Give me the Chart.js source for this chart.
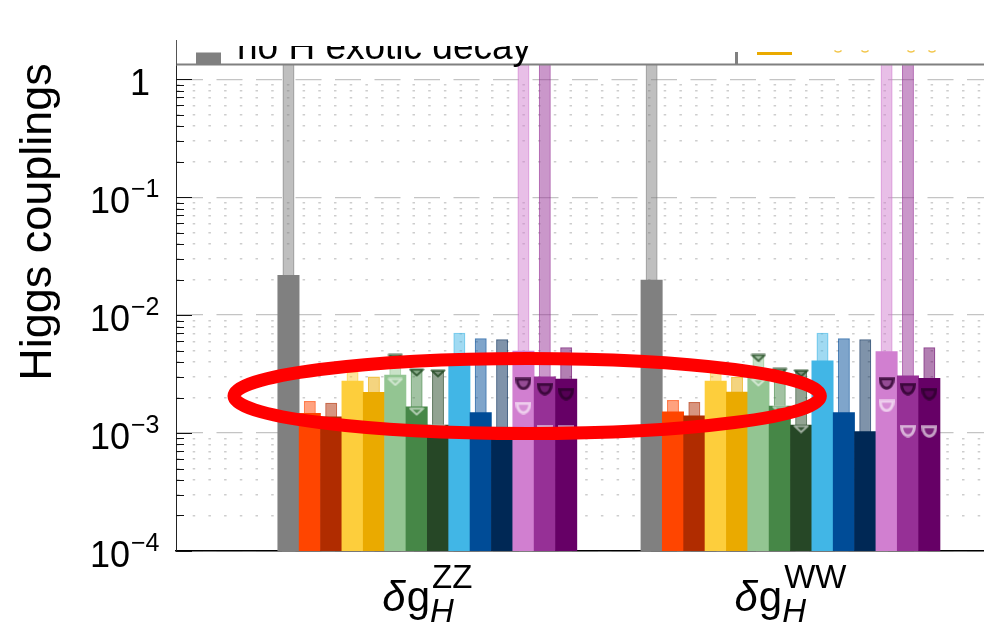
<!DOCTYPE html>
<html>
<head>
<meta charset="utf-8">
<script src="https://cdn.jsdelivr.net/npm/chart.js@4.4.0/dist/chart.umd.min.js"></script>
<style>
  html, body { margin: 0; padding: 0; background: #fff; overflow: hidden; }
  #wrap { width: 984px; height: 625px; }
</style>
</head>
<body>
<div id="wrap"><canvas id="myChart" width="984" height="625"></canvas></div>
<script>
// Coupling groups (superscript of δg_H) and slot layout
const groupNames = ['ZZ', 'WW'];
const slotsPerGroup = 17;   // 14 bars + 3 empty slots between groups

// Bar colours, one per scenario (grey = no H exotic decay)
const barColors = ['#808080', '#FF4500', '#B02C00', '#FDCE3C', '#EAAA00', '#93C592', '#468747',
                   '#264726', '#41B6E6', '#004C97', '#002855', '#D17FD0', '#963096', '#660066'];

// Precision reach per scenario (solid bars) and the looser reach (thin pale bars)
const mainZZ  = [0.0217, 1.47e-3, 1.37e-3, 2.76e-3, 2.21e-3, 3.10e-3, 1.67e-3, 1.17e-3, 4.1e-3, 1.49e-3, 1.03e-3, 4.96e-3, 3.00e-3, 2.87e-3];
const upperZZ = [5, 1.87e-3, 1.81e-3, 3.3e-3, 3.01e-3, 4.6e-3, 3.47e-3, 3.38e-3, 7.1e-3, 6.36e-3, 6.23e-3, 5, 5, 5.33e-3];
const mainWW  = [0.0198, 1.51e-3, 1.40e-3, 2.76e-3, 2.23e-3, 3.05e-3, 1.69e-3, 1.17e-3, 4.1e-3, 1.49e-3, 1.03e-3, 4.90e-3, 3.05e-3, 2.91e-3];
const upperWW = [5, 1.91e-3, 1.83e-3, 3.3e-3, 3.00e-3, 4.6e-3, 3.47e-3, 3.38e-3, 7.1e-3, 6.36e-3, 6.23e-3, 5, 5, 5.33e-3];

// Triangle markers on the green scenarios
const triSlots     = [5, 6, 7];
const triUpperZZ   = [4.33e-3, 3.26e-3, 3.21e-3];
const triMainZZ    = [2.71e-3, 1.52e-3, 1.09e-3];
const triUpperWW   = [4.33e-3, 3.30e-3, 3.21e-3];
const triMainWW    = [2.68e-3, 1.57e-3, 1.08e-3];

// Half-disc markers on the purple scenarios
const cupSlots     = [11, 12, 13];
const cupDarkZZ    = [2.61e-3, 2.36e-3, 2.14e-3];
const cupLightZZ   = [1.63e-3, 1.04e-3, 1.03e-3];
const cupDarkWW    = [2.63e-3, 2.36e-3, 2.14e-3];
const cupLightWW   = [1.70e-3, 1.04e-3, 1.03e-3];

// y axis decades that get a label
const decadeExps = [-4, -3, -2, -1, 0];

// highlighted region (slot units, coupling values)
const ringX = [-2.55, 24.9];
const ringY = [0.99e-3, 4.29e-3];

const mainSets = [mainZZ, mainWW];
const upperSets = [upperZZ, upperWW];

function slotPoints(sets, slots) {
	const pts = [];
	sets.forEach((vals, g) => {
		vals.forEach((v, i) => {
			const s = slots ? slots[i] : i;
			pts.push({x: g * slotsPerGroup + s, y: v});
		});
	});
	return pts;
}

function alpha(hex, a) {
	const n = parseInt(hex.slice(1), 16);
	return 'rgba(' + (n >> 16) + ',' + ((n >> 8) & 255) + ',' + (n & 255) + ',' + a + ')';
}

function makeTriangle(stroke, fill) {
	const c = document.createElement('canvas');
	c.width = 16; c.height = 9;
	const g = c.getContext('2d');
	g.beginPath();
	g.moveTo(1.5, 1.5); g.lineTo(14.5, 1.5); g.lineTo(8, 7.5); g.closePath();
	g.fillStyle = fill; g.fill();
	g.lineWidth = 2; g.lineJoin = 'round'; g.strokeStyle = stroke; g.stroke();
	return c;
}

function makeCup(stroke, fill) {
	const c = document.createElement('canvas');
	c.width = 16; c.height = 13;
	const g = c.getContext('2d');
	g.beginPath();
	g.moveTo(1.5, 1.8); g.lineTo(14.5, 1.8);
	g.ellipse(8, 1.8, 6.5, 9.5, 0, 0, Math.PI);
	g.closePath();
	g.fillStyle = fill; g.fill();
	g.lineWidth = 3; g.strokeStyle = stroke; g.stroke();
	return c;
}

const triDark = makeTriangle('rgba(30,70,30,0.75)', 'rgba(30,70,30,0.2)');
const triLight = makeTriangle('rgba(255,255,255,0.55)', 'rgba(255,255,255,0.08)');
const cupDark = makeCup('rgba(45,0,45,0.8)', 'rgba(60,0,60,0.4)');
const cupLight = makeCup('rgba(255,255,255,0.6)', 'rgba(255,255,255,0.12)');

function markerSet(sets, slots, img) {
	return {
		type: 'scatter',
		data: slotPoints(sets, slots),
		pointStyle: img,
		pointRadius: 7,
		order: 0
	};
}

const isDecade = v => Math.abs(Math.log10(v) - Math.round(Math.log10(v))) < 1e-6;

const sans = '"Liberation Sans", Arial, sans-serif';

// highlight ring, legend strip, axis labels and inward ticks
const decorations = {
	id: 'decorations',
	afterDatasetsDraw(chart) {
		const {ctx, scales: {x, y}} = chart;
		const x0 = x.getPixelForValue(ringX[0]), x1 = x.getPixelForValue(ringX[1]);
		const y0 = y.getPixelForValue(ringY[0]), y1 = y.getPixelForValue(ringY[1]);
		ctx.save();
		ctx.beginPath();
		ctx.ellipse((x0 + x1) / 2, (y0 + y1) / 2, (x1 - x0) / 2, Math.abs(y0 - y1) / 2, 0, 0, 2 * Math.PI);
		ctx.lineWidth = 13;
		ctx.strokeStyle = '#FF0000';
		ctx.stroke();
		ctx.restore();
	},
	afterDraw(chart) {
		const {ctx, chartArea, scales: {x, y}} = chart;
		ctx.save();

		// inward ticks
		ctx.strokeStyle = '#111';
		ctx.lineWidth = 1;
		y.ticks.forEach(t => {
			const py = Math.round(y.getPixelForValue(t.value)) + 0.5;
			const len = isDecade(t.value) ? 16 : 8;
			ctx.beginPath();
			ctx.moveTo(chartArea.left, py);
			ctx.lineTo(chartArea.left + len, py);
			ctx.stroke();
		});

		// y tick labels
		ctx.fillStyle = '#000';
		ctx.textBaseline = 'alphabetic';
		decadeExps.forEach(e => {
			const py = y.getPixelForValue(Math.pow(10, e));
			if (e === 0) {
				ctx.font = '36px ' + sans;
				ctx.textAlign = 'right';
				ctx.fillText('1', 150, py + 16);
			} else {
				ctx.font = '36px ' + sans;
				ctx.textAlign = 'right';
				ctx.fillText('10', 130, py + 16);
				ctx.font = '25px ' + sans;
				ctx.textAlign = 'left';
				ctx.fillText('\u2212' + Math.abs(e), 131, py);
			}
		});

		// y axis title
		ctx.save();
		ctx.translate(51, 222);
		ctx.rotate(-Math.PI / 2);
		ctx.font = '45px ' + sans;
		ctx.textAlign = 'center';
		ctx.fillText('Higgs couplings', 0, 0);
		ctx.restore();

		// x labels: δg_H^{VV}
		groupNames.forEach((name, g) => {
			const cx = x.getPixelForValue(g * slotsPerGroup + 6.5);
			const base = 611;
			ctx.font = 'italic 42px ' + sans;
			const wd = ctx.measureText('\u03b4').width;
			ctx.font = '42px ' + sans;
			const wg = ctx.measureText('g').width;
			ctx.font = '33px ' + sans;
			const ws = ctx.measureText(name).width;
			const left = cx - (wd + wg + ws + 3) / 2;
			ctx.textAlign = 'left';
			ctx.font = 'italic 42px ' + sans;
			ctx.fillText('\u03b4', left, base);
			ctx.font = '42px ' + sans;
			ctx.fillText('g', left + wd + 1, base);
			ctx.font = '33px ' + sans;
			ctx.fillText(name, left + wd + wg + 3, base - 23);
			ctx.font = 'italic 33px ' + sans;
			ctx.fillText('H', left + wd + wg + 1, base + 11);
		});

		// legend strip, cut off at the top
		ctx.beginPath();
		ctx.rect(0, 40, chart.width, 30);
		ctx.clip();
		ctx.fillStyle = '#fff';
		ctx.fillRect(chartArea.left, 40, chart.width, chartArea.top - 40);
		ctx.strokeStyle = '#808080';
		ctx.lineWidth = 2;
		ctx.beginPath();
		ctx.moveTo(chartArea.left, chartArea.top - 0.5);
		ctx.lineTo(chart.width, chartArea.top - 0.5);
		ctx.stroke();
		ctx.lineWidth = 1;
		ctx.strokeStyle = '#555';
		ctx.beginPath();
		ctx.moveTo(chartArea.left + 0.5, 40);
		ctx.lineTo(chartArea.left + 0.5, chartArea.top);
		ctx.stroke();
		ctx.fillStyle = '#808080';
		ctx.fillRect(196, 52.5, 25, 11.5);
		ctx.fillRect(735, 52, 3, 12);
		ctx.fillStyle = '#EAAA00';
		ctx.fillRect(757, 52, 35, 3);
		// bottoms of the orange entry, mostly cut away
		ctx.strokeStyle = '#F2C64A';
		ctx.lineWidth = 1.5;
		[838, 865, 911, 932].forEach(cx => {
			ctx.beginPath();
			ctx.arc(cx, 47, 5, 0.25 * Math.PI, 0.75 * Math.PI);
			ctx.stroke();
		});
		ctx.save();
		ctx.beginPath();
		ctx.rect(0, 46, chart.width, 30);
		ctx.clip();
		ctx.fillStyle = '#000';
		ctx.font = '37px ' + sans;
		ctx.textAlign = 'left';
		ctx.fillText('no H exotic decay', 237, 59);
		ctx.restore();
		ctx.restore();
	}
};

const chart = new Chart('myChart', {
	type: 'bar',
	data: {
		datasets: [
			{
				data: slotPoints(mainSets),
				backgroundColor: ctx => barColors[ctx.dataIndex % barColors.length],
				borderWidth: 0,
				grouped: false,
				barPercentage: 1,
				categoryPercentage: 1,
				order: 1
			},
			{
				data: slotPoints(upperSets),
				backgroundColor: ctx => alpha(barColors[ctx.dataIndex % barColors.length], 0.5),
				borderColor: ctx => alpha(barColors[ctx.dataIndex % barColors.length], 0.7),
				borderWidth: 1.5,
				grouped: false,
				barPercentage: 0.56,
				categoryPercentage: 1,
				order: 2
			},
			markerSet([triUpperZZ, triUpperWW], triSlots, triDark),
			markerSet([triMainZZ, triMainWW], triSlots, triLight),
			markerSet([cupDarkZZ, cupDarkWW], cupSlots, cupDark),
			markerSet([cupLightZZ, cupLightWW], cupSlots, cupLight)
		]
	},
	options: {
		responsive: false,
		animation: false,
		layout: {autoPadding: false, padding: {left: 0, right: 0, top: 65, bottom: 0}},
		scales: {
			x: {
				type: 'linear',
				min: -5.265,
				max: 32.56,
				offset: false,
				bounds: 'data',
				grid: {display: false, offset: false},
				border: {display: true, color: '#000', width: 1.5},
				ticks: {display: false},
				afterBuildTicks: scale => {
					scale.ticks = groupNames.map((n, g) => ({value: g * slotsPerGroup + 6.5}));
				},
				afterFit: scale => { scale.height = 74; }
			},
			y: {
				type: 'logarithmic',
				min: 1e-4,
				max: 1.32,
				ticks: {display: false},
				grid: {
					drawTicks: false,
					color: ctx => (ctx.tick && isDecade(ctx.tick.value)) ? '#c4c4c4' : '#cdcdcd',
					lineWidth: ctx => (ctx.tick && isDecade(ctx.tick.value)) ? 1.3 : 1.5
				},
				border: {
					display: true,
					color: '#222',
					width: 1,
					dash: ctx => (ctx.tick && isDecade(ctx.tick.value)) ? [26, 13.5] : [2.5, 13.2]
				},
				afterBuildTicks: scale => {
					const ticks = [];
					decadeExps.forEach(e => {
						for (let m = 1; m <= 9; m++) {
							const v = m * Math.pow(10, e);
							if (v <= scale.max) ticks.push({value: v});
						}
					});
					scale.ticks = ticks;
				},
				afterFit: scale => { scale.width = 176; }
			}
		},
		plugins: {
			legend: {display: false},
			tooltip: {enabled: false}
		}
	},
	plugins: [decorations]
});
</script>
</body>
</html>
